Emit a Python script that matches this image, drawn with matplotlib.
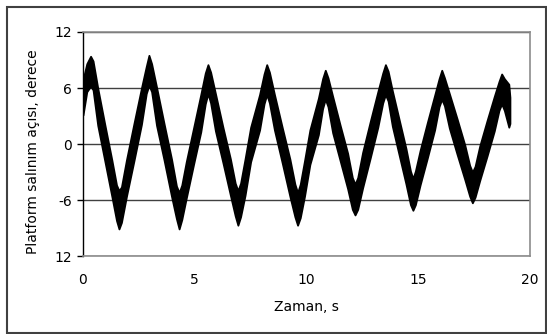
import matplotlib
matplotlib.use('Agg')
import matplotlib.pyplot as plt
from matplotlib.patches import Rectangle

# upper / lower edge of the noisy signal band
time_s = [0.00, 0.17, 0.34, 0.45, 0.66, 0.975, 1.29, 1.50, 1.61, 1.72,
          1.945, 2.28, 2.615, 2.83, 2.95, 3.07, 3.29, 3.625, 3.96, 4.18,
          4.30, 4.42, 4.62, 4.945, 5.27, 5.47, 5.59, 5.71, 5.925, 6.26,
          6.595, 6.81, 6.93, 7.05, 7.25, 7.50, 7.90, 8.10, 8.22, 8.34,
          8.565, 8.91, 9.255, 9.48, 9.60, 9.72, 9.91, 10.15, 10.53, 10.72,
          10.84, 10.96, 11.17, 11.505, 11.84, 12.05, 12.17, 12.29, 12.51, 12.85,
          13.19, 13.41, 13.53, 13.65, 13.84, 14.145, 14.45, 14.65, 14.76, 14.87,
          15.08, 15.405, 15.73, 15.93, 16.05, 16.17, 16.39, 16.735, 17.08, 17.30,
          17.42, 17.54, 17.75, 18.075, 18.40, 18.61, 18.73, 18.85, 19.05, 19.10]
upper = [6.9, 8.6, 9.4, 8.9, 6.0, 2.1, -1.7, -4.4, -5.0, -4.6,
         -1.7, 2.2, 6.0, 8.3, 9.5, 8.6, 6.1, 2.2, -1.6, -4.5,
         -5.2, -4.4, -1.9, 1.7, 5.3, 7.6, 8.5, 7.7, 5.4, 1.8,
         -1.6, -4.2, -5.0, -4.2, -1.6, 1.8, 5.3, 7.5, 8.5, 7.7,
         5.3, 1.8, -1.6, -4.3, -5.2, -4.3, -1.8, 1.5, 4.9, 7.0,
         7.9, 7.1, 5.1, 2.0, -1.0, -3.6, -4.3, -3.6, -0.9, 2.4,
         5.6, 7.6, 8.5, 7.8, 5.7, 2.6, -0.5, -2.9, -3.7, -2.9,
         -0.7, 2.3, 5.2, 7.0, 7.9, 7.1, 5.4, 2.7, -0.1, -2.3,
         -3.0, -2.4, -0.2, 2.5, 5.1, 6.7, 7.5, 7.0, 6.4, 5.0]
lower = [3.1, 5.6, 6.2, 5.8, 2.0, -1.8, -5.6, -8.2, -9.1, -8.4,
         -5.6, -1.8, 2.1, 5.4, 6.3, 5.6, 2.0, -1.7, -5.6, -8.0,
         -9.1, -8.1, -5.8, -2.2, 1.3, 4.3, 5.4, 4.4, 1.4, -2.0,
         -5.5, -7.7, -8.7, -7.8, -5.5, -1.9, 1.5, 4.3, 5.3, 4.4,
         1.5, -2.0, -5.6, -7.8, -8.7, -7.9, -5.6, -2.2, 1.0, 3.8,
         4.8, 4.0, 1.2, -1.8, -4.8, -7.0, -7.6, -7.0, -4.7, -1.5,
         1.8, 4.4, 5.3, 4.6, 1.9, -1.2, -4.3, -6.5, -7.1, -6.5,
         -4.4, -1.5, 1.5, 4.0, 4.8, 4.1, 1.7, -1.1, -3.8, -5.6,
         -6.3, -5.7, -3.9, -1.3, 1.4, 3.6, 4.3, 3.6, 1.8, 2.2]

x_ticks = [0, 5, 10, 15, 20]
y_ticks = [-12, -6, 0, 6, 12]
y_tick_labels = ['12', '-6', '0', '6', '12']

plt.rcParams['font.family'] = 'DejaVu Sans'
plt.rcParams['font.size'] = 10

fig = plt.figure(figsize=(5.47, 3.34), dpi=100)
ax = fig.add_axes([0.1517, 0.2335, 0.8173, 0.6707])

ax.fill_between(time_s, lower, upper, color='black', lw=1.3)

ax.set_xlim(0, 20)
ax.set_ylim(-12, 12)
ax.set_xticks(x_ticks)
ax.set_yticks(y_ticks)
ax.set_yticklabels(y_tick_labels)
ax.tick_params(axis='x', length=0, pad=12, labelsize=10)
ax.tick_params(axis='y', length=4, width=1, pad=4, labelsize=10, color='black')

ax.set_axisbelow(True)
ax.yaxis.grid(True, color='#404040', lw=1)
for side in ['top', 'right', 'bottom']:
    ax.spines[side].set_color('#8c8c8c')
    ax.spines[side].set_linewidth(1.2)
ax.spines['left'].set_color('black')
ax.spines['left'].set_linewidth(1)

ax.set_xlabel('Zaman, s', fontsize=10)
ax.xaxis.label.set_va('center')
ax.xaxis.set_label_coords(0.5, -0.226)
ax.set_ylabel('Platform salınım açısı, derece', fontsize=10)
ax.yaxis.label.set_va('center')
ax.yaxis.set_label_coords(-0.112, 0.464)

# outer chart frame
fig.patches.append(Rectangle((0.0128, 0.002), 0.985, 0.977, transform=fig.transFigure,
                             fill=False, edgecolor='#404040', lw=1.5))

fig.savefig('out.png', dpi=100)
